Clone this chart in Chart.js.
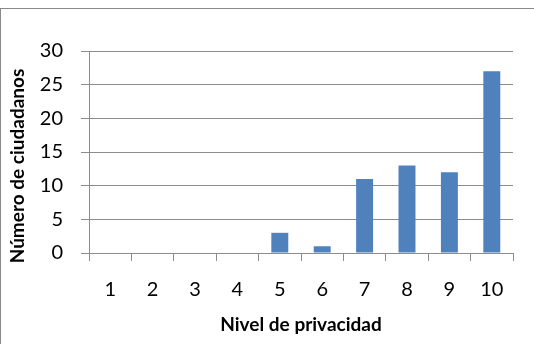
<!DOCTYPE html>
<html>
<head>
<meta charset="utf-8">
<script src="https://cdn.jsdelivr.net/npm/chart.js@4/dist/chart.umd.min.js"></script>
<style>
  html, body { margin: 0; padding: 0; background: #fff; }
  #wrap { position: relative; width: 534px; height: 344px; overflow: hidden; }
  #frame { position: absolute; left: 0; top: 8px; width: 600px; height: 400px;
           border-top: 1px solid #888; border-left: 1px solid #888; box-sizing: border-box; }
  canvas { position: absolute; left: 0; top: 0; }
</style>
</head>
<body>
<div id="wrap">
  <div id="frame"></div>
  <canvas id="c" width="534" height="344"></canvas>
</div>
<script>
// ── Data ───────────────────────────────────────────────────────────────────────
const levels   = ['1', '2', '3', '4', '5', '6', '7', '8', '9', '10'];
const citizens = [0, 0, 0, 0, 3, 1, 11, 13, 12, 27];
const yTicks   = [0, 5, 10, 15, 20, 25, 30];

const X_TITLE = 'Nivel de privacidad';
const Y_TITLE = 'Número de ciudadanos';

const FONT = 'Lato, "Open Sans", sans-serif';
const GRID = '#8c8c8c';
const BAR  = '#4F81BD';

// axis titles drawn at the spots the reference uses
const axisTitles = {
  id: 'axisTitles',
  afterDraw(chart) {
    const { ctx, chartArea } = chart;
    ctx.save();
    ctx.fillStyle = '#000';
    ctx.font = 'bold 19px ' + FONT;
    ctx.textAlign = 'center';
    ctx.textBaseline = 'middle';
    ctx.fillText(X_TITLE, (chartArea.left + chartArea.right) / 2, 325);
    ctx.translate(18, 166);
    ctx.rotate(-Math.PI / 2);
    ctx.fillText(Y_TITLE, 0, 0);
    ctx.restore();
  }
};

new Chart(document.getElementById('c'), {
  type: 'bar',
  data: {
    labels: levels,
    datasets: [{
      data: citizens,
      backgroundColor: BAR,
      borderWidth: 0,
      barPercentage: 0.4,
      categoryPercentage: 1,
    }],
  },
  options: {
    responsive: false,
    animation: false,
    layout: { padding: { top: 51, right: 21, bottom: 0, left: 0 } },
    plugins: { legend: { display: false }, tooltip: { enabled: false } },
    scales: {
      x: {
        offset: true,
        grid: { offset: true, drawOnChartArea: false, color: GRID, tickLength: 8 },
        border: { color: GRID, width: 1 },
        ticks: { font: { family: FONT, size: 20 }, color: '#000', padding: 17 },
        afterFit: s => { s.height = 91; },
      },
      y: {
        min: 0, max: 30,
        afterBuildTicks: s => { s.ticks = yTicks.map(v => ({ value: v })); },
        grid: { color: GRID, tickLength: 8 },
        border: { color: GRID, width: 1 },
        ticks: { font: { family: FONT, size: 20 }, color: '#000', padding: 18 },
        afterFit: s => { s.width = 89; },
      },
    },
  },
  plugins: [axisTitles],
});
</script>
</body>
</html>
